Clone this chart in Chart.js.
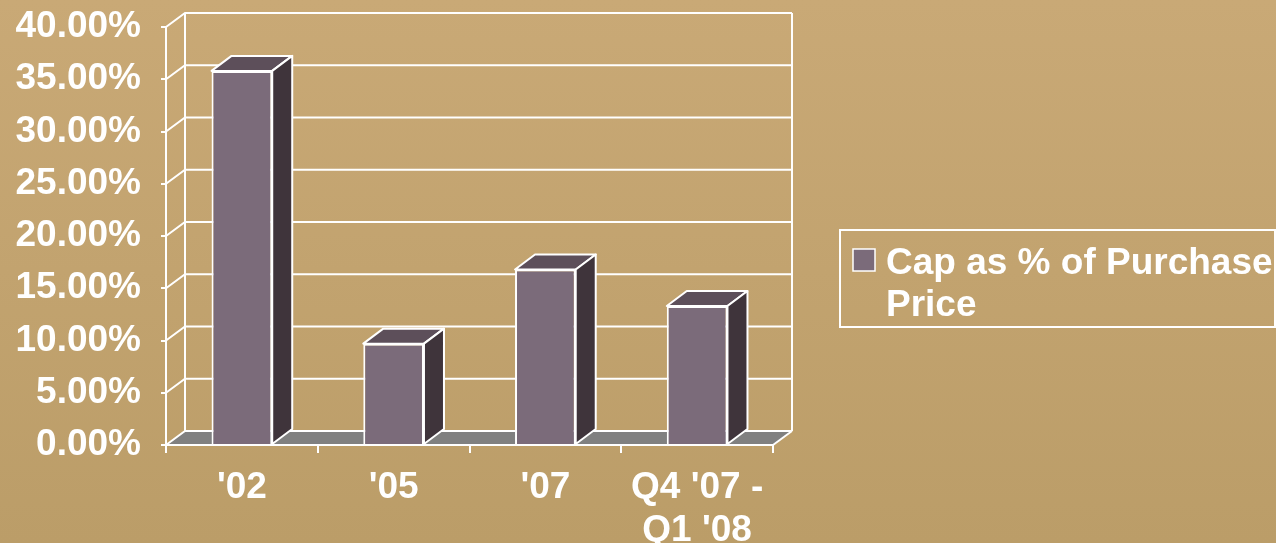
<!DOCTYPE html>
<html lang="en">
<head>
<meta charset="UTF-8" />
<title>Cap as % of Purchase Price</title>
<script src="https://cdn.jsdelivr.net/npm/chart.js@4"></script>
<style>
  html, body { margin: 0; padding: 0; }
  body {
    width: 1276px;
    height: 543px;
    overflow: hidden;
    background: linear-gradient(to bottom, #c9a976, #bb9d68);
  }
  #wrap { position: relative; width: 1276px; height: 543px; }
</style>
</head>
<body>
<div id="wrap"><canvas id="capChart"></canvas></div>
<script>
  const periods = ["'02", "'05", "'07", ["Q4 '07 -", "Q1 '08"]];
  const capPercent = [35.8, 9.7, 16.8, 13.3];
  const legendLines = ['Cap as % of Purchase', 'Price'];

  const FONT = "'Liberation Sans', Arial, sans-serif";
  const FRONT = '#7b6b7a', TOP = '#5d4f5a', SIDE = '#3f343b';
  // depth offsets for the box walls and for the columns
  const WALL_DX = 19, WALL_DY = -14;
  const BAR_DX = 20, BAR_DY = -15;

  function line(ctx, pts) {
    ctx.beginPath();
    ctx.moveTo(pts[0][0], pts[0][1]);
    for (let i = 1; i < pts.length; i++) ctx.lineTo(pts[i][0], pts[i][1]);
  }

  // floor, back wall and left side wall with gridlines
  const walls = {
    id: 'walls',
    beforeDraw(chart) {
      const { ctx, chartArea: a, scales: { y } } = chart;
      ctx.save();
      ctx.fillStyle = '#808080';
      line(ctx, [[a.left, a.bottom], [a.right, a.bottom], [a.right + WALL_DX, a.bottom + WALL_DY], [a.left + WALL_DX, a.bottom + WALL_DY]]);
      ctx.closePath();
      ctx.fill();

      ctx.strokeStyle = '#fff';
      ctx.lineWidth = 2;
      y.ticks.forEach(t => {
        const py = y.getPixelForValue(t.value);
        line(ctx, [[a.left, py], [a.left + WALL_DX, py + WALL_DY], [a.right + WALL_DX, py + WALL_DY]]);
        ctx.stroke();
      });
      line(ctx, [[a.left + WALL_DX, a.top + WALL_DY], [a.left + WALL_DX, a.bottom + WALL_DY]]);
      ctx.stroke();
      line(ctx, [[a.right + WALL_DX, a.top + WALL_DY], [a.right + WALL_DX, a.bottom + WALL_DY]]);
      ctx.stroke();
      line(ctx, [[a.right, a.bottom], [a.right + WALL_DX, a.bottom + WALL_DY]]);
      ctx.stroke();
      ctx.restore();
    }
  };

  // top and right faces of each column
  const columns3d = {
    id: 'columns3d',
    afterDatasetsDraw(chart) {
      const ctx = chart.ctx;
      ctx.save();
      ctx.strokeStyle = '#fff';
      ctx.lineWidth = 2;
      ctx.lineJoin = 'round';
      chart.getDatasetMeta(0).data.forEach(bar => {
        const { x, y, base, width } = bar.getProps(['x', 'y', 'base', 'width'], true);
        const l = x - width / 2, r = x + width / 2;
        line(ctx, [[l, y], [r, y], [r + BAR_DX, y + BAR_DY], [l + BAR_DX, y + BAR_DY]]);
        ctx.closePath();
        ctx.fillStyle = TOP;
        ctx.fill();
        ctx.stroke();
        line(ctx, [[r, y], [r + BAR_DX, y + BAR_DY], [r + BAR_DX, base + BAR_DY], [r, base]]);
        ctx.closePath();
        ctx.fillStyle = SIDE;
        ctx.fill();
        ctx.stroke();
      });
      ctx.restore();
    }
  };

  const boxLegend = {
    id: 'boxLegend',
    afterDraw(chart) {
      const ctx = chart.ctx;
      ctx.save();
      ctx.strokeStyle = '#fff';
      ctx.lineWidth = 2;
      ctx.strokeRect(840, 230, 435, 97);
      ctx.fillStyle = FRONT;
      ctx.fillRect(853, 249, 22, 22);
      ctx.lineWidth = 1.5;
      ctx.strokeRect(853, 249, 22, 22);
      ctx.fillStyle = '#fff';
      ctx.font = 'bold 37px ' + FONT;
      ctx.textBaseline = 'alphabetic';
      legendLines.forEach((s, i) => ctx.fillText(s, 886, 274 + i * 42));
      ctx.restore();
    }
  };

  new Chart(document.getElementById('capChart'), {
    type: 'bar',
    data: {
      labels: periods,
      datasets: [{
        label: legendLines.join(' '),
        data: capPercent,
        backgroundColor: FRONT,
        borderColor: '#fff',
        borderWidth: 2,
        barPercentage: 1,
        categoryPercentage: 0.4
      }]
    },
    options: {
      responsive: true,
      maintainAspectRatio: false,
      animation: false,
      layout: { padding: { top: 27, right: 503, left: 0, bottom: 0 } },
      plugins: { legend: { display: false }, tooltip: { enabled: false } },
      scales: {
        x: {
          ticks: {
            color: '#fff',
            font: { family: FONT, size: 37, weight: 'bold', lineHeight: 1.16 },
            padding: 13,
            maxRotation: 0,
            autoSkip: false
          },
          grid: { drawOnChartArea: false, color: '#fff', lineWidth: 2, tickLength: 8, offset: true },
          border: { color: '#fff', width: 2 },
          afterFit(s) { s.height = 98; s.paddingLeft = 0; s.paddingRight = 0; }
        },
        y: {
          min: 0,
          max: 40,
          ticks: {
            stepSize: 5,
            color: '#fff',
            font: { family: FONT, size: 37, weight: 'bold' },
            padding: 20,
            callback: v => v.toFixed(2) + '%'
          },
          grid: { drawOnChartArea: false, color: '#fff', lineWidth: 2, tickLength: 5 },
          border: { color: '#fff', width: 2 },
          afterFit(s) { s.width = 166; s.paddingTop = 0; s.paddingBottom = 0; }
        }
      }
    },
    plugins: [walls, columns3d, boxLegend]
  });
</script>
</body>
</html>
